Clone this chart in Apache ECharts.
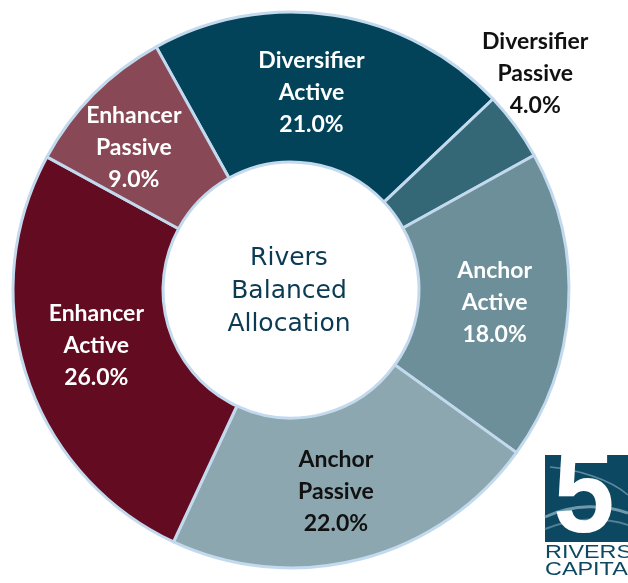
<!DOCTYPE html>
<html>
<head>
<meta charset="utf-8">
<script src="https://cdn.jsdelivr.net/npm/echarts@6/dist/echarts.min.js"></script>
<style>
html,body{margin:0;padding:0;background:#fff;}
#chart{width:628px;height:583px;}
</style>
</head>
<body>
<div id="chart"></div>
<script>
// Data
const categories = ['Diversifier Active', 'Diversifier Passive', 'Anchor Active', 'Anchor Passive', 'Enhancer Active', 'Enhancer Passive'];
const values = [21.0, 4.0, 18.0, 22.0, 26.0, 9.0];
const centerTitle = 'Rivers\nBalanced\nAllocation';

// Styles
const colors = ['#03435a', '#346877', '#6d8f9a', '#8ca7af', '#620b21', '#894856'];
const labelColors = ['#ffffff', '#111111', '#ffffff', '#111111', '#ffffff', '#ffffff'];
const labelNudge = [[-11, 6], [78, -95], [-2, 0], [-7, 2], [1, -9], [-11, 3]];

const chart = echarts.init(document.getElementById('chart'));
const data = categories.map((c, i) => ({
  name: c,
  value: values[i],
  itemStyle: { color: colors[i] },
  label: { color: labelColors[i] }
}));

chart.setOption({
  animation: false,
  series: [{
    type: 'pie',
    center: [291, 290],
    radius: [128, 278],
    startAngle: 119,
    clockwise: true,
    avoidLabelOverlap: false,
    itemStyle: { borderColor: '#c3daee', borderWidth: 3 },
    label: {
      show: true,
      position: 'inside',
      fontFamily: 'Lato',
      fontWeight: 'bold',
      fontSize: 23,
      lineHeight: 32,
      formatter: p => p.name.replace(' ', '\n') + '\n' + p.value.toFixed(1) + '%'
    },
    labelLine: { show: false },
    labelLayout: function (params) {
      const n = labelNudge[params.dataIndex];
      return { dx: n[0], dy: n[1] };
    },
    emphasis: { disabled: true },
    data: data
  }],
  graphic: [
    {
      type: 'text', x: 289, y: 291,
      style: {
        text: centerTitle,
        font: '25px "DejaVu Sans"', fill: '#0b3b52',
        textAlign: 'center', textVerticalAlign: 'middle', lineHeight: 33
      }
    },
    {
      type: 'group', x: 545, y: 455,
      children: [
        { type: 'rect', shape: { x: 0, y: 0, width: 83, height: 87 }, style: { fill: '#0d4862' } },
        { type: 'bezierCurve', shape: { x1: 0, y1: 62, x2: 83, y2: 58, cpx1: 30, cpy1: 48, cpx2: 60, cpy2: 50 }, style: { stroke: '#6f9aab', lineWidth: 3, fill: null } },
        { type: 'bezierCurve', shape: { x1: 0, y1: 74, x2: 83, y2: 70, cpx1: 30, cpy1: 62, cpx2: 60, cpy2: 62 }, style: { stroke: '#4f8096', lineWidth: 2, fill: null } },
        { type: 'bezierCurve', shape: { x1: 5, y1: 12, x2: 83, y2: 40, cpx1: 30, cpy1: 14, cpx2: 65, cpy2: 24 }, style: { stroke: '#5c8ba0', lineWidth: 1.5, fill: null } },
        { type: 'text', x: 39, y: 45, scaleX: 0.95, style: { text: '5', font: 'bold 116px "Liberation Sans"', fill: '#ffffff', textAlign: 'center', textVerticalAlign: 'middle' } },
        { type: 'text', x: 0, y: 89, scaleX: 1.3, style: { text: 'RIVERS', font: '18px "Liberation Sans"', fill: '#0d4862', textVerticalAlign: 'top' } },
        { type: 'text', x: 0, y: 106, scaleX: 1.3, style: { text: 'CAPITAL', font: '18px "Liberation Sans"', fill: '#0d4862', textVerticalAlign: 'top' } }
      ]
    }
  ]
});
</script>
</body>
</html>
